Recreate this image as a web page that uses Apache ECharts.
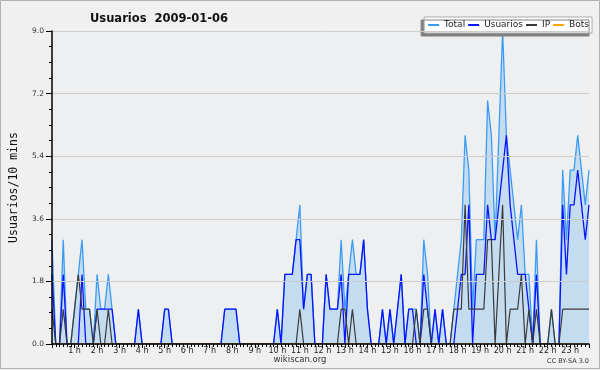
<!DOCTYPE html>
<html><head><meta charset="utf-8">
<script src="https://cdn.jsdelivr.net/npm/echarts@6/dist/echarts.min.js"></script>
<style>html,body{margin:0;padding:0;background:#f0f0f0}#c{width:600px;height:370px}</style>
</head><body><div id="c"></div><script>
const hourLabels = ['1 h','2 h','3 h','4 h','5 h','6 h','7 h','8 h','9 h','10 h','11 h','12 h','13 h','14 h','15 h','16 h','17 h','18 h','19 h','20 h','21 h','22 h','23 h'];
const yTicks = [0, 1.8, 3.6, 5.4, 7.2, 9.0];
const total = [3,0,0,3,0,0,1,2,3,1, 1,0,2,1,1,2,1,0,0,0, 0,0,0,1,0,0,0,0,0,0, 1,1,0,0,0,0,0,0,0,0,
  0,0,0,0,0,0,1,1,1,1, 0,0,0,0,0,0,0,0,0,0, 1,0,2,2,2,3,4,1,2,2, 0,0,0,2,1,1,1,3,1,2,
  3,2,2,3,1,0,0,0,1,0, 1,0,1,2,0,1,1,1,0,3, 2,0,1,0,1,0,0,1,2,3, 6,5,1,3,3,3,7,6,3,6,
  9,6,5,4,3,4,2,2,0,3, 0,0,0,1,0,0,5,3,5,5, 6,5,4,5];
const usuarios = [2,0,0,2,0,0,0,0,2,0, 0,0,1,1,1,1,1,0,0,0, 0,0,0,1,0,0,0,0,0,0, 1,1,0,0,0,0,0,0,0,0,
  0,0,0,0,0,0,1,1,1,1, 0,0,0,0,0,0,0,0,0,0, 1,0,2,2,2,3,3,1,2,2, 0,0,0,2,1,1,1,2,0,2,
  2,2,2,3,1,0,0,0,1,0, 1,0,1,2,0,1,1,0,0,2, 1,0,1,0,1,0,0,0,1,2, 2,4,0,2,2,2,4,3,3,4,
  5,6,4,3,2,2,2,1,0,2, 0,0,0,0,0,0,4,2,4,4, 5,4,3,4];
const ip = [1,0,0,1,0,0,1,2,1,1, 1,0,1,0,0,1,0,0,0,0, 0,0,0,0,0,0,0,0,0,0, 0,0,0,0,0,0,0,0,0,0,
  0,0,0,0,0,0,0,0,0,0, 0,0,0,0,0,0,0,0,0,0, 0,0,0,0,0,0,1,0,0,0, 0,0,0,0,0,0,0,1,1,0,
  1,0,0,0,0,0,0,0,0,0, 0,0,0,0,0,0,0,1,0,1, 1,0,0,0,0,0,0,1,1,1, 4,1,1,1,1,1,3,3,0,2,
  4,0,1,1,1,2,0,1,0,1, 0,0,0,1,0,0,1,1,1,1, 1,1,1,1];
const bots = new Array(144).fill(0);

const toXY = arr => arr.map((v, i) => [i, v]);
const chart = echarts.init(document.getElementById('c'), null, {renderer: 'canvas'});
const F = 'DejaVu Sans';
chart.setOption({
  animation: false,
  backgroundColor: '#f0f0f0',
  title: {
    text: 'Usuarios  2009-01-06', left: 85, top: 8,
    textStyle: {fontFamily: F, fontWeight: 'bold', fontSize: 11.5, color: '#111'}
  },
  legend: {
    right: 8, top: 17, icon: 'rect', itemWidth: 11, itemHeight: 2, itemGap: 3,
    padding: [3, 3, 3, 4],
    backgroundColor: '#ffffff', borderColor: '#aaaaaa', borderWidth: 1,
    shadowColor: '#808080', shadowOffsetX: -3, shadowOffsetY: 3, shadowBlur: 0,
    textStyle: {fontFamily: F, fontSize: 9, color: '#222', lineHeight: 10},
    data: ['Total', 'Usuarios', 'IP', 'Bots']
  },
  grid: {left: 47, right: 11, top: 31, bottom: 26, show: true, backgroundColor: '#eeeff1', borderWidth: 0},
  xAxis: {
    type: 'value', min: 0, max: 143, interval: 6, z: 5,
    axisLine: {lineStyle: {color: '#000', width: 1.5}},
    axisTick: {show: true, length: 4, lineStyle: {color: '#000'}},
    minorTick: {show: true, splitNumber: 6, length: 3, lineStyle: {color: '#000'}},
    splitLine: {show: false},
    axisLabel: {
      fontFamily: F, fontSize: 8, color: '#222', margin: 3,
      formatter: v => (v > 0 && v % 6 === 0 && hourLabels[v / 6 - 1]) ? hourLabels[v / 6 - 1] : ''
    }
  },
  yAxis: {
    type: 'value', min: 0, max: 9, interval: 1.8, z: 5,
    name: 'Usuarios/10 mins', nameLocation: 'middle', nameGap: 32, nameRotate: 90,
    nameTextStyle: {fontFamily: 'DejaVu Sans Mono', fontSize: 11.5, color: '#111'},
    axisLine: {show: true, lineStyle: {color: '#000', width: 1.5}},
    axisTick: {show: true, length: 6, lineStyle: {color: '#000'}},
    minorTick: {show: true, splitNumber: 4, length: 3, lineStyle: {color: '#000'}},
    splitLine: {show: true, lineStyle: {color: '#cccccc', width: 1}},
    axisLabel: {fontFamily: F, fontSize: 7.5, color: '#333', margin: 8,
      formatter: v => yTicks.some(t => Math.abs(t - v) < 1e-6) ? v.toFixed(1) : ''}
  },
  series: [
    {name: 'Total', type: 'line', data: toXY(total), symbol: 'none', color: '#3c9cf4',
     lineStyle: {color: '#3c9cf4', width: 1.3}, areaStyle: {color: '#c4dcf0', opacity: 1}},
    {name: 'Usuarios', type: 'line', data: toXY(usuarios), symbol: 'none', color: '#0a14ff',
     lineStyle: {color: '#0a14ff', width: 1.3}},
    {name: 'IP', type: 'line', data: toXY(ip), symbol: 'none', color: '#3a3a3a',
     lineStyle: {color: '#3a3a3a', width: 1.2}},
    {name: 'Bots', type: 'line', data: toXY(bots), symbol: 'none', color: '#ffa500',
     lineStyle: {color: '#ffa500', width: 1.2}}
  ],
  graphic: [
    {type: 'rect', shape: {x: 0.5, y: 0.5, width: 599, height: 368}, style: {fill: 'none', stroke: '#b0b0b0', lineWidth: 1}, silent: true},
    {type: 'text', left: 'center', top: 355, style: {text: 'wikiscan.org', font: '8.5px DejaVu Sans', fill: '#333'}},
    {type: 'text', right: 11, top: 358, style: {text: 'CC BY-SA 3.0', font: '6.5px DejaVu Sans', fill: '#333'}}
  ]
});
</script></body></html>
